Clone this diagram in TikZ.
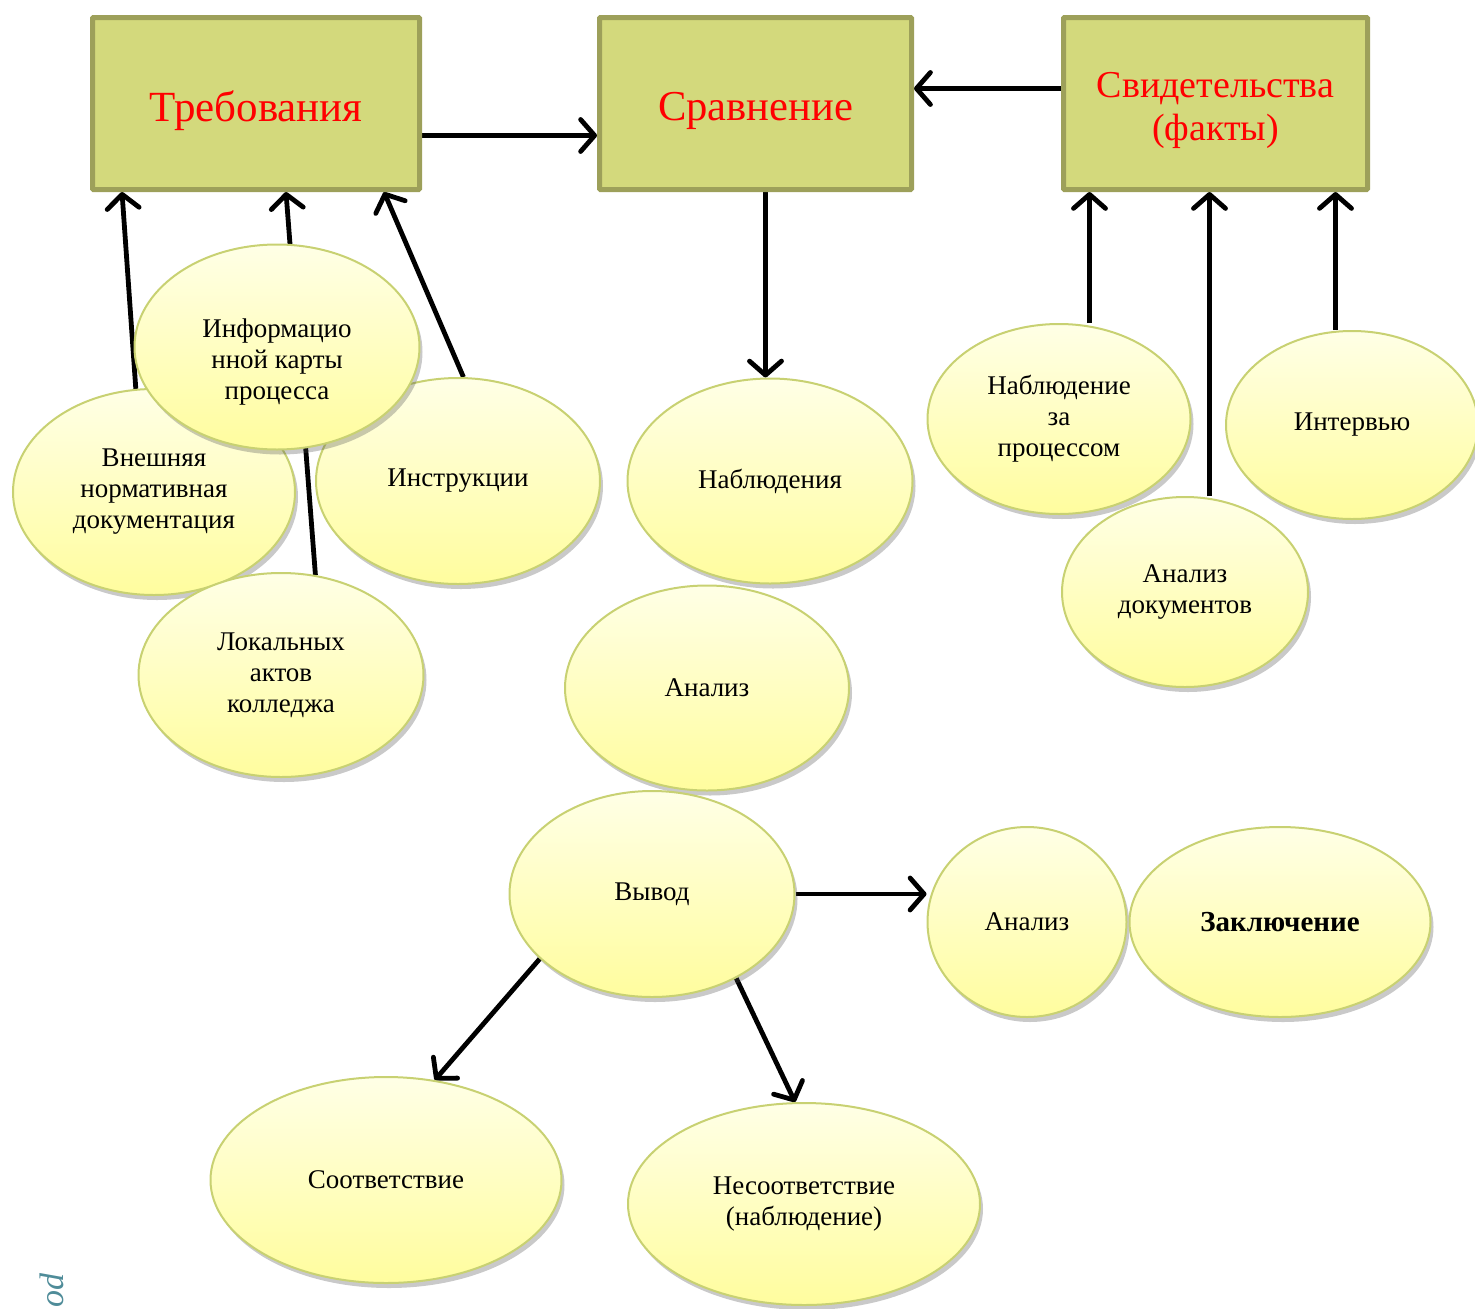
\documentclass[tikz,border=0pt]{standalone}
\usepackage{fontspec}
\setmainfont{Liberation Serif}
\usetikzlibrary{arrows.meta,shapes.geometric,shadows,backgrounds}

\begin{document}
\begin{tikzpicture}[x=1pt,y=-1pt,
  box/.style={rectangle, draw=colBoxLine, line width=5pt, fill=colBox,
    rounded corners=1pt, minimum width=#1, minimum height=172pt, inner sep=0pt},
  boxtext/.style={align=center, text=red, yshift=-7pt, font=\fontsize{#1}{43}\selectfont},
  bubble/.style n args={2}{ellipse, draw=colBubLine, line width=2pt,
    top color=colBubTop, bottom color=colBubBot,
    drop shadow={shadow xshift=3pt, shadow yshift=-5pt, opacity=0.3, fill=black!70},
    minimum width=#1, minimum height=#2, inner sep=0pt, align=center,
    font=\fontsize{27}{31}\selectfont},
  arr/.style={line width=4.8pt, -{Straight Barb[length=14pt, width=32pt, round]}}]

% Цвета
\definecolor{colBox}{HTML}{D3D97C}
\definecolor{colBoxLine}{HTML}{9DA05A}
\definecolor{colBubTop}{HTML}{FFFFE6}
\definecolor{colBubBot}{HTML}{FFFD9E}
\definecolor{colBubLine}{HTML}{C8D172}
\definecolor{colPage}{HTML}{4F8C99}

\useasboundingbox (0,0) rectangle (1475,1309);

% Блоки
\node[box=327pt, label={[boxtext=43]center:Требования}] (treb) at (256,103.5) {};
\node[box=312pt, label={[boxtext=42.6]center:Сравнение}] (sravn) at (755.5,103.5) {};
\node[box=304pt, label={[boxtext=38]center:Свидетельства\\(факты)}] (svid) at (1215.5,103.5) {};

% Требования: источники
\node[bubble={282pt}{206pt}] (vnesh) at (154,492) {Внешняя\\нормативная\\документация};
\node[bubble={284pt}{206pt}] (instr) at (458,481) {Инструкции};
\node[bubble={285pt}{205pt},
  label={[align=center, font=\fontsize{27}{31}\selectfont, yshift=-15pt]center:Информацио\\нной карты\\процесса}]
  (info) at (277,347) {};
\node[bubble={285pt}{204pt}] (loc) at (281,675) {Локальных\\актов\\колледжа};

% Сравнение и вывод
\node[bubble={285pt}{205pt}] (nabl) at (770,481) {Наблюдения};
\node[bubble={284pt}{205pt}] (analiz) at (707,688) {Анализ};
\node[bubble={285pt}{206pt}] (vyvod) at (652,894) {Вывод};
\node[bubble={199pt}{190pt}] (analiz2) at (1027,922) {Анализ};
\node[bubble={301pt}{190pt}, font=\fontsize{29}{31}\selectfont\bfseries] (zakl) at (1280,922) {Заключение};
\node[bubble={351pt}{206pt}] (sootv) at (386,1180) {Соответствие};
\node[bubble={352pt}{202pt}] (nesootv) at (804,1204) {Несоответствие\\(наблюдение)};

% Свидетельства: источники
\node[bubble={263pt}{190pt}] (nabzp) at (1059,419) {Наблюдение\\за\\процессом};
\node[bubble={252pt}{188pt}] (interv) at (1352,425) {Интервью};
\node[bubble={246pt}{190pt}] (adoc) at (1185,592) {Анализ\\документов};

% Край страницы
\node[rotate=90, text=colPage, font=\itshape\fontsize{34}{34}\selectfont] (pg) at (52,1290) {od};

% Стрелки
\begin{scope}[on background layer]
\draw[arr] (vnesh.100) -- ([xshift=-134pt]treb.south);
\draw[arr] (loc.71) -- ([xshift=30pt]treb.south);
\draw[arr] (instr.87) -- ([xshift=128pt]treb.south);
\draw[arr] ([yshift=-32pt]treb.east) -- ([yshift=-32pt]sravn.west);
\draw[arr] ([yshift=15pt]svid.west) -- ([yshift=15pt]sravn.east);
\draw[arr] ([xshift=10pt]sravn.south) -- ([xshift=10pt]sravn.south |- nabl.north);
\draw[arr] ([xshift=-126pt]svid.south |- nabzp.north) -- ([xshift=-126pt]svid.south);
\draw[arr] ([xshift=-6pt]svid.south |- adoc.north) -- ([xshift=-6pt]svid.south);
\draw[arr] ([xshift=120pt]svid.south |- interv.north) -- ([xshift=120pt]svid.south);
\draw[arr] (vyvod.east) -- (vyvod.east -| analiz2.west);
\draw[arr] (vyvod.210) -- (sootv.64);
\draw[arr] (vyvod.-45) -- (nesootv.95);
\end{scope}

\end{tikzpicture}
\end{document}
